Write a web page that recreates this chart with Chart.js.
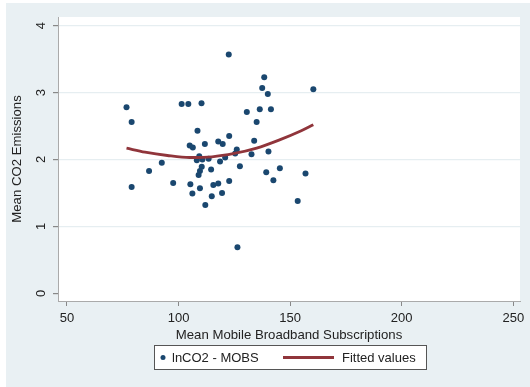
<!DOCTYPE html>
<html>
<head>
<meta charset="utf-8">
<script src="https://cdn.jsdelivr.net/npm/chart.js@4"></script>
<style>
  html, body { margin: 0; padding: 0; background: #fff; }
</style>
</head>
<body>
<canvas id="myChart" width="530" height="387"></canvas>
<script>
// country means: mobile broadband subscriptions vs log CO2
const mobs = [76.7, 79.0, 79.0, 86.8, 92.5, 97.6, 101.4, 104.4, 110.3, 108.5,
              105.0, 106.4, 111.8, 117.8, 119.8, 122.7, 109.3, 108.2, 110.7, 113.5,
              118.6, 120.9, 114.6, 110.4, 109.6, 109.0, 105.3, 109.6, 106.2, 115.6,
              117.8, 122.7, 114.9, 119.5, 112.0, 126.4, 122.5, 130.6, 136.4, 135.0,
              133.9, 132.7, 127.5, 126.1, 125.4, 138.4, 137.5, 140.0, 141.4, 160.4,
              140.3, 139.3, 145.4, 142.5, 156.9, 153.4];
const lnco2 = [2.78, 2.56, 1.59, 1.83, 1.95, 1.65, 2.83, 2.83, 2.84, 2.43,
               2.21, 2.18, 2.23, 2.27, 2.23, 2.35, 2.05, 1.99, 2.00, 2.01,
               1.97, 2.03, 1.85, 1.89, 1.83, 1.77, 1.63, 1.57, 1.49, 1.62,
               1.64, 1.68, 1.45, 1.50, 1.32, 0.69, 3.57, 2.71, 2.75, 2.56,
               2.28, 2.08, 1.90, 2.15, 2.09, 3.23, 3.07, 2.98, 2.75, 3.05,
               2.12, 1.81, 1.87, 1.69, 1.79, 1.38];

// quadratic fit, sampled
const fitX = [76.7, 85, 95, 105, 115, 125, 135, 145, 155, 160.4];
const fitY = [2.17, 2.11, 2.06, 2.03, 2.04, 2.09, 2.17, 2.29, 2.43, 2.52];

const xTicks = [50, 100, 150, 200, 250];
const yTicks = [0, 1, 2, 3, 4];

const FONT = 'Liberation Sans';
const TEXT = '#222';

const background = {
    id: 'background',
    beforeDraw(chart) {
        const { ctx, chartArea: a } = chart;
        ctx.save();
        ctx.fillStyle = '#fff';
        ctx.fillRect(0, 0, chart.width, chart.height);
        ctx.fillStyle = '#e9f0f3';
        ctx.fillRect(6, 3, chart.width - 6, chart.height - 3);
        ctx.fillStyle = '#fff';
        ctx.fillRect(a.left, a.top, a.right - a.left, a.bottom - a.top);
        ctx.restore();
    }
};

// boxed legend under the x title
const legendBox = {
    id: 'legendBox',
    afterDraw(chart) {
        const ctx = chart.ctx;
        const ds = chart.data.datasets;
        ctx.save();
        ctx.fillStyle = '#fff';
        ctx.fillRect(154.5, 345.5, 272, 24);
        ctx.strokeStyle = '#555';
        ctx.lineWidth = 1;
        ctx.strokeRect(154.5, 345.5, 272, 24);

        ctx.font = '13px "' + FONT + '"';
        ctx.textBaseline = 'middle';

        ctx.fillStyle = ds[0].backgroundColor;
        ctx.beginPath();
        ctx.arc(163, 357.5, 2.5, 0, Math.PI * 2);
        ctx.fill();
        ctx.fillStyle = TEXT;
        ctx.fillText(ds[0].label, 172, 358);

        ctx.strokeStyle = ds[1].borderColor;
        ctx.lineWidth = 2.8;
        ctx.beginPath();
        ctx.moveTo(283, 357.5);
        ctx.lineTo(334, 357.5);
        ctx.stroke();
        ctx.fillText(ds[1].label, 342, 358);
        ctx.restore();
    }
};

new Chart(document.getElementById('myChart').getContext('2d'), {
    type: 'scatter',
    data: {
        datasets: [{
            label: 'lnCO2 - MOBS',
            data: mobs.map((x, i) => ({ x: x, y: lnco2[i] })),
            backgroundColor: '#1a476f',
            borderColor: '#1a476f',
            borderWidth: 0,
            pointRadius: 3,
            order: 1
        }, {
            label: 'Fitted values',
            data: fitX.map((x, i) => ({ x: x, y: fitY[i] })),
            showLine: true,
            borderColor: '#90353b',
            borderWidth: 2.8,
            pointRadius: 0,
            cubicInterpolationMode: 'monotone',
            fill: false,
            order: 0
        }]
    },
    options: {
        responsive: false,
        devicePixelRatio: 1,
        animation: false,
        layout: { padding: { left: 0, top: 17, right: 10, bottom: 0 } },
        plugins: {
            legend: { display: false },
            tooltip: { enabled: false }
        },
        scales: {
            x: {
                type: 'linear',
                min: 46,
                max: 253,
                afterBuildTicks: s => { s.ticks = xTicks.map(v => ({ value: v })); },
                afterFit: s => { s.height = 86; },
                grid: { color: 'transparent', drawTicks: true, tickLength: 5, tickColor: '#888' },
                border: { color: '#aaa', width: 1 },
                ticks: { color: TEXT, font: { family: FONT, size: 13 }, padding: 5, maxRotation: 0 },
                title: {
                    display: true,
                    text: 'Mean Mobile Broadband Subscriptions',
                    color: TEXT,
                    font: { family: FONT, size: 13.2 },
                    padding: { top: 0, bottom: 43.5 }
                }
            },
            y: {
                type: 'linear',
                min: -0.115,
                max: 4.13,
                afterBuildTicks: s => { s.ticks = yTicks.map(v => ({ value: v })); },
                afterFit: s => { s.width = 58; },
                grid: {
                    color: c => (c.tick && c.tick.value === 0) ? 'transparent' : '#e6eef1',
                    lineWidth: 1.2,
                    drawTicks: true,
                    tickLength: 5,
                    tickColor: '#888'
                },
                border: { color: '#aaa', width: 1 },
                ticks: {
                    color: TEXT,
                    font: { family: FONT, size: 13 },
                    minRotation: 90,
                    maxRotation: 90,
                    crossAlign: 'center',
                    padding: 8
                },
                title: {
                    display: true,
                    text: 'Mean CO2 Emissions',
                    color: TEXT,
                    font: { family: FONT, size: 13.2 },
                    padding: { top: 9.7, bottom: 0 }
                }
            }
        }
    },
    plugins: [background, legendBox]
});
</script>
</body>
</html>
